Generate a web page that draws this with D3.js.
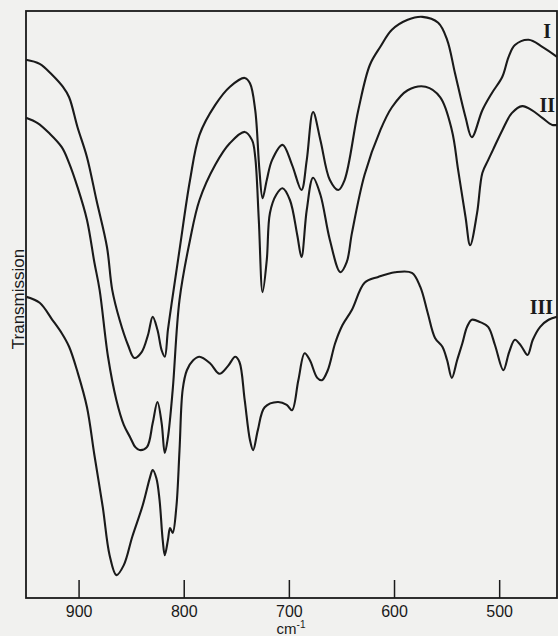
<!DOCTYPE html>
<meta charset="utf-8">
<title>IR spectra</title>
<style>
body {
  margin: 0;
  background: #f1f1ef;
}
svg {
  display: block;
  background: #f1f1ef;
}
.frame {
  fill: none;
  stroke: #1a1a1a;
  stroke-width: 1.8;
}
.spectrum {
  fill: none;
  stroke: #1a1a1a;
  stroke-width: 2.1;
  stroke-linejoin: round;
}
.axis text {
  font: 16px "Liberation Sans", Arial, sans-serif;
  fill: #1a1a1a;
}
.axis line {
  stroke: #1a1a1a;
  stroke-width: 1.5;
}
.roman {
  font: bold 20px "Liberation Serif", "Times New Roman", serif;
  fill: #1a1a1a;
}
.label {
  font: 17px "Liberation Sans", Arial, sans-serif;
  fill: #1a1a1a;
}
</style>
<svg width="558" height="636"></svg>
<script src="https://cdn.jsdelivr.net/npm/d3@7/dist/d3.min.js"></script>
<script>

// wavenumbers (cm-1) and transmission (%)
var wnI = [950, 937, 925, 915, 909, 901, 892, 883, 873, 868, 861, 853, 847, 840, 834, 829.5, 825, 821, 818, 815, 811, 804, 794, 785, 770, 756, 742, 737, 732, 728, 725, 721, 716, 706, 697, 688, 683, 677, 670, 661, 653, 647, 634, 623, 613, 602, 587, 573, 558, 549.5, 542, 532, 526, 516, 507, 497, 491, 485, 472, 459, 445];
var tI  = [91.7, 91.0, 89.1, 87.1, 85.3, 80.2, 75.1, 67.8, 59.8, 52.5, 47.4, 43.1, 40.9, 41.9, 44.8, 47.9, 45.7, 42.2, 41.1, 45.7, 50.8, 59.3, 71.2, 78.9, 84.0, 87.1, 88.6, 87.7, 83.1, 72.9, 68.1, 71.2, 74.6, 77.2, 73.8, 69.5, 74.6, 82.8, 78.0, 71.2, 69.5, 71.2, 83.1, 90.8, 93.9, 96.8, 98.5, 99.0, 98.0, 95.1, 89.4, 81.9, 78.5, 83.1, 86.0, 88.8, 92.2, 94.2, 95.1, 93.9, 92.2];

var wnII = [950, 939, 928, 916, 909, 901, 892, 885, 880, 872, 864, 857, 851, 846, 842, 835, 829.5, 825, 821, 818, 815, 810.5, 804, 794, 785, 770, 756, 742, 735, 732, 728.6, 725, 721, 718, 712, 706, 699, 692, 688, 683, 677, 670, 661, 651, 645, 640, 628, 613, 602, 587, 570, 556, 545, 539, 532, 527.6, 521, 516, 510.5, 506, 497, 488, 478, 469, 459, 449.5, 445];
var tII  = [81.8, 80.9, 79.2, 76.8, 74.1, 70.0, 64.4, 57.2, 52.5, 41.1, 33.7, 29.5, 27.4, 25.7, 25.2, 25.7, 29.8, 33.4, 29.8, 24.7, 27.4, 35.4, 50.8, 61.0, 67.8, 73.8, 77.5, 79.4, 78.0, 75.1, 64.4, 52.1, 57.6, 65.6, 68.7, 69.8, 67.8, 61.8, 58.1, 66.1, 71.6, 68.7, 61.0, 55.5, 57.2, 62.2, 72.1, 79.7, 83.6, 86.5, 87.1, 85.3, 79.7, 72.9, 64.9, 60.1, 65.6, 72.4, 74.6, 76.3, 79.7, 82.6, 83.8, 83.1, 81.8, 80.6, 80.6];

var wnIII = [949.5, 937, 925, 916, 909, 901, 892, 885, 877, 870.5, 864, 857, 849, 839, 832, 829.5, 826, 823, 820, 818, 815, 813, 810.5, 807, 804, 801, 797, 791, 785, 775, 766, 758, 751, 747, 742, 737, 734, 729.5, 723, 710.5, 702, 697, 691, 685, 680, 673, 668.6, 663, 656, 649, 640, 628, 615, 599, 583, 575, 568, 561, 554, 549.5, 545, 540, 535, 530.5, 526, 518, 510.5, 504, 496, 490.5, 485, 479, 473, 468, 461, 453, 445];
var tIII  = [51.3, 50.3, 47.4, 45.1, 42.8, 38.5, 32.5, 24.4, 15.5, 7.3, 3.9, 5.6, 10.4, 15.8, 20.6, 21.8, 20.4, 16.7, 9.9, 7.3, 9.9, 11.9, 11.1, 15.5, 25.2, 35.5, 38.8, 40.5, 41.1, 40.0, 38.2, 39.5, 41.1, 40.2, 33.7, 26.9, 25.2, 28.6, 32.5, 33.4, 32.9, 32.0, 37.1, 41.7, 40.5, 37.5, 37.1, 38.8, 43.4, 46.5, 49.1, 53.7, 54.7, 55.5, 55.4, 53.0, 48.6, 44.3, 42.8, 40.5, 37.5, 40.5, 43.4, 46.2, 47.4, 47.0, 46.2, 43.1, 38.8, 41.9, 44.0, 42.9, 41.4, 44.0, 46.2, 47.4, 47.9];

var tickValues = [900, 800, 700, 600, 500];
var names = ["I", "II", "III"];
var nameAt = [[551, 38], [555, 112], [553, 314]];

var svg = d3.select("svg"),
    width = +svg.attr("width"),
    height = +svg.attr("height"),
    margin = {top: 11, right: 1, bottom: 38, left: 26};

var x = d3.scaleLinear()
    .domain([950, 445])
    .range([margin.left, width - margin.right]);

var y = d3.scaleLinear()
    .domain([0, 100])
    .range([height - margin.bottom, margin.top]);

function pairs(wn, t) {
  return wn.map(function (w, i) { return [w, t[i]]; });
}

var spectra = [pairs(wnI, tI), pairs(wnII, tII), pairs(wnIII, tIII)];

var line = d3.line()
    .x(function (d) { return x(d[0]); })
    .y(function (d) { return y(d[1]); })
    .curve(d3.curveCatmullRom.alpha(0.5));

svg.append("g")
  .selectAll("path")
    .data(spectra)
  .enter().append("path")
    .attr("class", "spectrum")
    .attr("d", line);

svg.append("rect")
    .attr("class", "frame")
    .attr("x", margin.left)
    .attr("y", margin.top)
    .attr("width", width - margin.right - margin.left)
    .attr("height", height - margin.bottom - margin.top);

var axis = svg.append("g")
    .attr("class", "axis")
    .attr("transform", "translate(0," + (height - margin.bottom) + ")")
    .call(d3.axisBottom(x)
      .tickValues(tickValues)
      .tickSizeInner(-18)
      .tickSizeOuter(0)
      .tickPadding(8));

axis.select(".domain").remove();

svg.selectAll(".roman")
    .data(names)
  .enter().append("text")
    .attr("class", "roman")
    .attr("text-anchor", "end")
    .attr("x", function (d, i) { return nameAt[i][0]; })
    .attr("y", function (d, i) { return nameAt[i][1]; })
    .text(function (d) { return d; });

svg.append("text")
    .attr("class", "label")
    .attr("transform", "translate(24," + 299 + ") rotate(-90)")
    .attr("text-anchor", "middle")
    .text("Transmission");

var unit = svg.append("text")
    .attr("class", "label")
    .attr("x", 291)
    .attr("y", 634)
    .attr("text-anchor", "middle")
    .style("font-size", "15px");
unit.append("tspan").text("cm");
unit.append("tspan")
    .attr("dy", -6)
    .style("font-size", "10px")
    .text("-1");

</script>
